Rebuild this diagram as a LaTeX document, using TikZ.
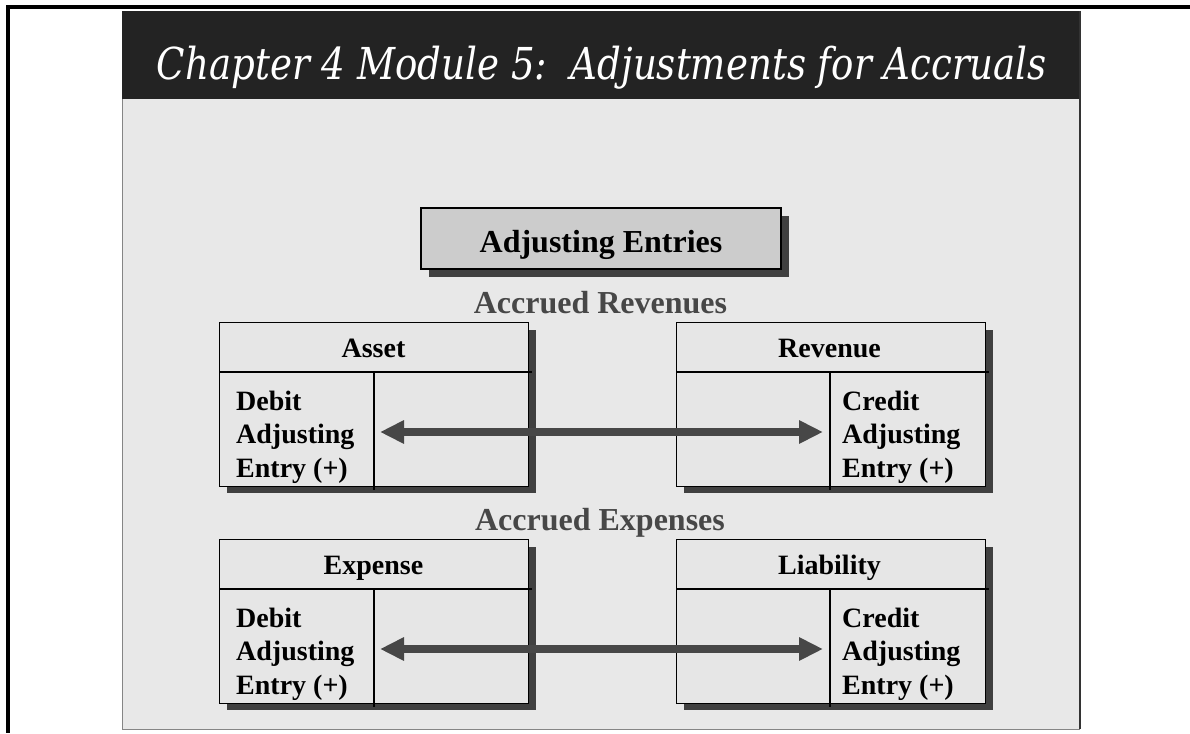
\documentclass[tikz,border=0pt]{standalone}
\usepackage{fontspec}
\usepackage{graphicx}
\setmainfont{Liberation Serif}
\newfontfamily\titlefont{DejaVu Serif}
\usetikzlibrary{arrows.meta}
\definecolor{titlebg}{HTML}{232323}
\definecolor{panelbg}{HTML}{E8E8E8}
\definecolor{shadowc}{HTML}{404040}
\definecolor{labelc}{HTML}{474747}
\definecolor{adjfill}{HTML}{CCCCCC}
\definecolor{tfill}{HTML}{E6E6E6}
\definecolor{arrowc}{HTML}{474747}
\definecolor{edgec}{HTML}{858585}
\begin{document}
\begin{tikzpicture}[x=1pt,y=-1pt,
  tbox/.style={draw=black, line width=1.3pt, fill=tfill, minimum width=309pt, minimum height=164pt, anchor=north west, inner sep=0pt},
  tline/.style={draw=black, line width=1.5pt},
  shadowbox/.style={fill=shadowc},
  headtext/.style={anchor=base, inner sep=0pt, font=\bfseries\fontsize{28}{33.5}\selectfont},
  bodytext/.style={anchor=base west, inner sep=0pt, font=\bfseries\fontsize{28}{33.5}\selectfont},
  sectiontext/.style={anchor=base, inner sep=0pt, text=labelc, font=\bfseries\fontsize{32}{36}\selectfont},
  adjbox/.style={draw=black, line width=1.3pt, fill=adjfill, minimum width=360pt, minimum height=61pt, inner sep=0pt, text height=27pt, text depth=0pt, font=\bfseries\fontsize{32}{36}\selectfont},
  bigarrow/.style={draw=arrowc, line width=8.5pt, {Triangle[length=24pt,width=22pt]}-{Triangle[length=24pt,width=22pt]}}
]
\useasboundingbox (0,0) rectangle (1190,733);
% outer frame lines
\fill[black] (6,5) rectangle (1190,9);
\fill[black] (6,5) rectangle (10,733);
% slide panel
\fill[panelbg] (122,11) rectangle (1080,729);
\fill[titlebg] (122,11) rectangle (1080,99);
\draw[edgec, line width=1pt] (122,99) -- (122,729) -- (1080,729);
\draw[black!80, line width=1.2pt] (1080,11) -- (1080,729);
% title
\node[anchor=base, text=white, inner sep=0pt] (title) at (602,80)
  {\resizebox{890pt}{\height}{\fontsize{44}{48}\selectfont\titlefont\itshape Chapter 4 Module 5:\ \ Adjustments for Accruals}};
% Adjusting Entries box
\fill[shadowbox] (429,216) rectangle (789,277);
\node[adjbox] (adj) at (601,238.5) {Adjusting Entries};
% section labels
\node[sectiontext] (accrev) at (600.5,313) {Accrued Revenues};
\node[sectiontext] (accexp) at (600,530) {Accrued Expenses};
% ---- Asset
\fill[shadowbox] (227,330) rectangle (536,493);
\node[tbox] (asset) at (219,322) {};
\draw[tline] (219,372) -- (532,372);
\draw[tline] (374,372) -- (374,490);
\node[headtext] (assetT) at (373.5,357) {Asset};
\node[bodytext] (assetB) at (236,410) {\begin{tabular}[t]{@{}l@{}}Debit\\Adjusting\\Entry (+)\end{tabular}};
% ---- Revenue
\fill[shadowbox] (684,330) rectangle (993,493);
\node[tbox] (revenue) at (676,322) {};
\draw[tline] (676,372) -- (989,372);
\draw[tline] (830,372) -- (830,490);
\node[headtext] (revenueT) at (829.5,357) {Revenue};
\node[bodytext] (revenueB) at (842,410) {\begin{tabular}[t]{@{}l@{}}Credit\\Adjusting\\Entry (+)\end{tabular}};
% ---- Expense
\fill[shadowbox] (227,547) rectangle (536,710);
\node[tbox] (expense) at (219,539) {};
\draw[tline] (219,589) -- (532,589);
\draw[tline] (374,589) -- (374,707);
\node[headtext] (expenseT) at (373.5,574) {Expense};
\node[bodytext] (expenseB) at (236,627) {\begin{tabular}[t]{@{}l@{}}Debit\\Adjusting\\Entry (+)\end{tabular}};
% ---- Liability
\fill[shadowbox] (684,547) rectangle (993,710);
\node[tbox] (liability) at (676,539) {};
\draw[tline] (676,589) -- (989,589);
\draw[tline] (830,589) -- (830,707);
\node[headtext] (liabilityT) at (829.5,574) {Liability};
\node[bodytext] (liabilityB) at (842,627) {\begin{tabular}[t]{@{}l@{}}Credit\\Adjusting\\Entry (+)\end{tabular}};
% arrows
\coordinate (a1) at (380,432);
\coordinate (a2) at (823,432);
\coordinate (b1) at (380,649);
\coordinate (b2) at (823,649);
\draw[bigarrow] (a1) -- (a2);
\draw[bigarrow] (b1) -- (b2);
\end{tikzpicture}
\end{document}
